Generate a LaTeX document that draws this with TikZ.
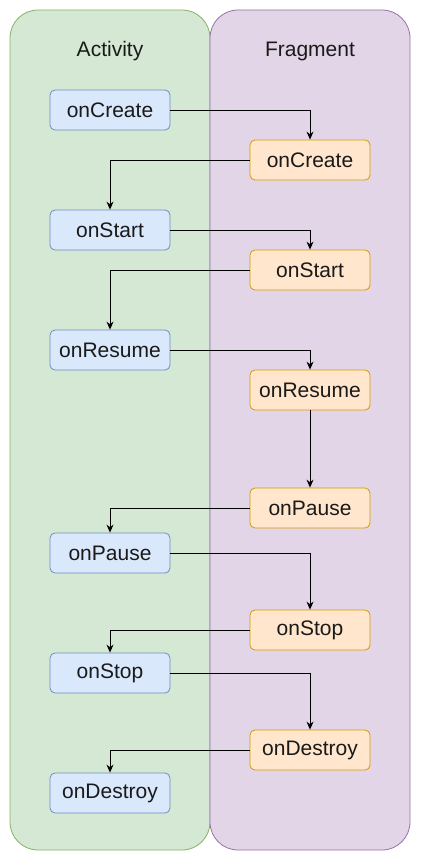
\documentclass[tikz,border=0pt]{standalone}
\usepackage{fontspec}
\setmainfont{Liberation Sans}
\usetikzlibrary{arrows.meta}
\definecolor{lanegreen}{HTML}{D5E8D4}
\definecolor{lanegreenline}{HTML}{82B366}
\definecolor{lanepurple}{HTML}{E1D5E7}
\definecolor{lanepurpleline}{HTML}{9673A6}
\definecolor{actfill}{HTML}{DAE8FC}
\definecolor{actline}{HTML}{6C8EBF}
\definecolor{fragfill}{HTML}{FFE6CC}
\definecolor{fragline}{HTML}{D79B00}
\definecolor{txt}{HTML}{1A1A1A}
\begin{document}
\begin{tikzpicture}[x=1pt,y=-1pt,
  lane/.style={rounded corners=28pt, line width=0.8pt},
  actbox/.style={draw=actline, fill=actfill, rounded corners=5pt, minimum width=120pt, minimum height=40pt, inner sep=0pt, font=\fontsize{21}{24}\selectfont, text=txt, line width=0.8pt},
  fragbox/.style={draw=fragline, fill=fragfill, rounded corners=5pt, minimum width=120pt, minimum height=40pt, inner sep=0pt, font=\fontsize{21}{24}\selectfont, text=txt, line width=0.8pt},
  lanetitle/.style={font=\fontsize{21}{24}\selectfont, text=txt},
  flow/.style={draw=black, line width=0.9pt, -{Stealth[length=8pt,width=7pt]}}]
\useasboundingbox (0,0) rectangle (421,861);
\draw[lane, draw=lanegreenline, fill=lanegreen] (10,10) rectangle (210,850);
\draw[lane, draw=lanepurpleline, fill=lanepurple] (210,10) rectangle (410,850);
\node[lanetitle] (tact) at (110,51) {Activity};
\node[lanetitle] (tfrag) at (310,51) {Fragment};
% activity nodes
\node[actbox] (a1) at (110,110) {onCreate};
\node[actbox] (a2) at (110,230) {onStart};
\node[actbox] (a3) at (110,350) {onResume};
\node[actbox] (a4) at (110,553) {onPause};
\node[actbox] (a5) at (110,673) {onStop};
\node[actbox] (a6) at (110,793) {onDestroy};
% fragment nodes
\node[fragbox] (f1) at (310,160) {onCreate};
\node[fragbox] (f2) at (310,270) {onStart};
\node[fragbox] (f3) at (310,390) {onResume};
\node[fragbox] (f4) at (310,508) {onPause};
\node[fragbox] (f5) at (310,630) {onStop};
\node[fragbox] (f6) at (310,750) {onDestroy};
% connectors
\draw[flow] (a1.east) -| (f1.north);
\draw[flow] (f1.west) -| (a2.north);
\draw[flow] (a2.east) -| (f2.north);
\draw[flow] (f2.west) -| (a3.north);
\draw[flow] (a3.east) -| (f3.north);
\draw[flow] (f3.south) -- (f4.north);
\draw[flow] (f4.west) -| (a4.north);
\draw[flow] (a4.east) -| (f5.north);
\draw[flow] (f5.west) -| (a5.north);
\draw[flow] (a5.east) -| (f6.north);
\draw[flow] (f6.west) -| (a6.north);
\end{tikzpicture}
\end{document}
